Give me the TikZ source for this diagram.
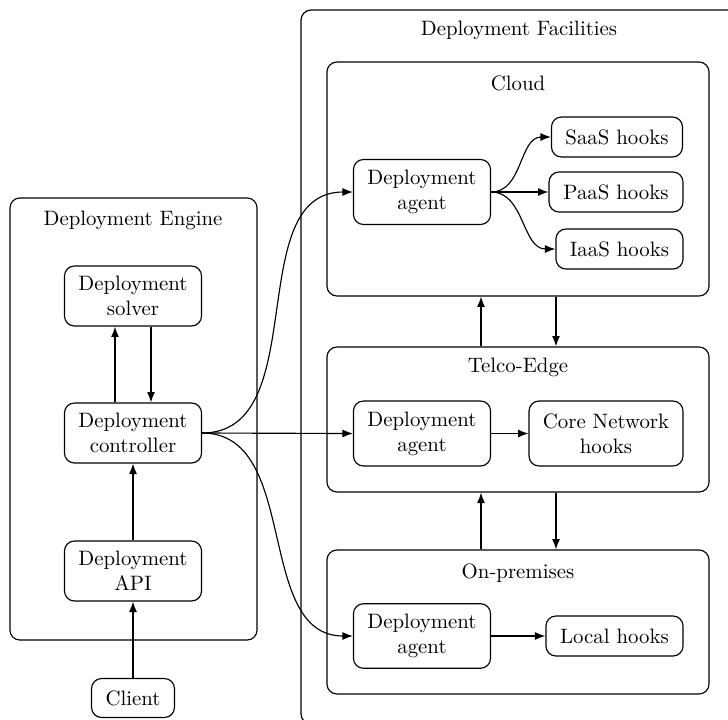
\documentclass[tikz,border=0pt]{standalone}
\usetikzlibrary{arrows.meta}
\begin{document}
\begin{tikzpicture}[x=0.48pt,y=-0.48pt,line width=0.55pt,
  box/.style={draw,rounded corners=4.8pt,align=center,inner sep=0pt},
  frame/.style={draw,rounded corners=4.8pt,inner sep=0pt},
  arr/.style={-{Latex[length=5pt,width=3.8pt]}}]
\useasboundingbox (0,0) rectangle (728,719);
\begin{scope}
\clip (0,0) rectangle (728,719);
% outer containers
\node[frame,minimum width=210.7pt,minimum height=342.7pt] (fac) at (520.5,367) {};
\node (factitle) at (519,30) {Deployment Facilities};
\node[frame,minimum width=118.6pt,minimum height=212.2pt] (eng) at (133.5,419) {};
\node (engtitle) at (133,220) {Deployment Engine};
\end{scope}
% facility regions
\node[frame,minimum width=183.4pt,minimum height=112.3pt] (cloud) at (518,179) {};
\node (cloudtitle) at (518,83) {Cloud};
\node[frame,minimum width=183.4pt,minimum height=69.6pt] (telco) at (518,419.5) {};
\node (telcotitle) at (518,367) {Telco-Edge};
\node[frame,minimum width=183.4pt,minimum height=69.1pt] (prem) at (518,622) {};
\node (premtitle) at (518,573) {On-premises};
% engine components
\node[box,minimum width=65.8pt,minimum height=28.8pt] (solver) at (133,296) {Deployment\\solver};
\node[box,minimum width=65.8pt,minimum height=28.8pt] (ctrl) at (133,433) {Deployment\\controller};
\node[box,minimum width=65.8pt,minimum height=28.8pt] (api) at (133,571) {Deployment\\API};
\node[box,minimum width=39.8pt,minimum height=18.7pt] (client) at (133,698) {Client};
% agents and hooks
\node[box,minimum width=65.8pt,minimum height=31.2pt] (agc) at (422,192) {Deployment\\agent};
\node[box,minimum width=62.9pt,minimum height=19.2pt] (saas) at (617,137) {SaaS hooks};
\node[box,minimum width=64.3pt,minimum height=19.2pt] (paas) at (616,192) {PaaS hooks};
\node[box,minimum width=61.0pt,minimum height=19.2pt] (iaas) at (619.5,249) {IaaS hooks};
\node[box,minimum width=65.8pt,minimum height=31.2pt] (agt) at (422,433.5) {Deployment\\agent};
\node[box,minimum width=73.9pt,minimum height=31.2pt] (core) at (606,433.5) {Core Network\\hooks};
\node[box,minimum width=65.8pt,minimum height=31.0pt] (agp) at (422,636) {Deployment\\agent};
\node[box,minimum width=65.8pt,minimum height=19.2pt] (local) at (614.5,636) {Local hooks};
% helper columns for vertical links
\coordinate (cu) at (115,0);
\coordinate (cd) at (151,0);
\coordinate (fu) at (481,0);
\coordinate (fd) at (556,0);
% engine links
\draw[arr] (cu |- ctrl.north) -- (cu |- solver.south);
\draw[arr] (cd |- solver.south) -- (cd |- ctrl.north);
\draw[arr] (api) -- (ctrl);
\draw[arr] (client) -- (api);
% controller to agents
\draw[arr] (ctrl.east) to[out=0,in=180] (agc.west);
\draw[arr] (ctrl.east) -- (agt.west);
\draw[arr] (ctrl.east) to[out=0,in=180] (agp.west);
% agents to hooks
\draw[arr] (agc.east) to[out=0,in=180] (saas.west);
\draw[arr] (agc.east) -- (paas.west);
\draw[arr] (agc.east) to[out=0,in=180] (iaas.west);
\draw[arr] (agt) -- (core);
\draw[arr] (agp) -- (local);
% links between regions
\draw[arr] (fu |- telco.north) -- (fu |- cloud.south);
\draw[arr] (fd |- cloud.south) -- (fd |- telco.north);
\draw[arr] (fu |- prem.north) -- (fu |- telco.south);
\draw[arr] (fd |- telco.south) -- (fd |- prem.north);
\end{tikzpicture}
\end{document}
